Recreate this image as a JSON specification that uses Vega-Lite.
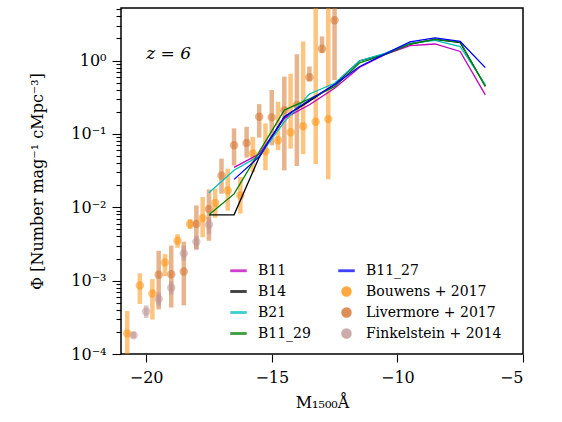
{
  "$schema": "https://vega.github.io/schema/vega-lite/v6.json",
  "width": 402,
  "height": 346,
  "autosize": {"type": "none"},
  "padding": {"left": 121, "top": 8, "right": 39, "bottom": 68},
  "config": {
    "view": {"stroke": "black", "strokeWidth": 1.5},
    "font": "DejaVu Serif",
    "axis": {"domain": false, "grid": false, "tickColor": "black", "tickWidth": 1.1, "labelColor": "black", "titleColor": "black", "labelFont": "DejaVu Serif", "titleFont": "DejaVu Serif", "labelFontSize": 16, "titleFontSize": 16, "titleFontWeight": "normal"}
  },
  "datasets": {
    "models": [
      {"series": "B11", "M": -16.5, "phi": 0.035}, {"series": "B11", "M": -15.5, "phi": 0.053}, {"series": "B11", "M": -14.5, "phi": 0.163}, {"series": "B11", "M": -13.5, "phi": 0.25}, {"series": "B11", "M": -12.5, "phi": 0.42}, {"series": "B11", "M": -11.5, "phi": 0.81}, {"series": "B11", "M": -10.5, "phi": 1.2}, {"series": "B11", "M": -9.5, "phi": 1.6}, {"series": "B11", "M": -8.5, "phi": 1.68}, {"series": "B11", "M": -7.5, "phi": 1.33}, {"series": "B11", "M": -6.5, "phi": 0.34},
      {"series": "B14", "M": -17.5, "phi": 0.0079}, {"series": "B14", "M": -16.5, "phi": 0.0079}, {"series": "B14", "M": -15.5, "phi": 0.048}, {"series": "B14", "M": -14.5, "phi": 0.17}, {"series": "B14", "M": -13.5, "phi": 0.28}, {"series": "B14", "M": -12.5, "phi": 0.47}, {"series": "B14", "M": -11.5, "phi": 0.99}, {"series": "B14", "M": -10.5, "phi": 1.22}, {"series": "B14", "M": -9.5, "phi": 1.68}, {"series": "B14", "M": -8.5, "phi": 1.94}, {"series": "B14", "M": -7.5, "phi": 1.75}, {"series": "B14", "M": -6.5, "phi": 0.45},
      {"series": "B21", "M": -17.5, "phi": 0.0158}, {"series": "B21", "M": -16.5, "phi": 0.032}, {"series": "B21", "M": -15.5, "phi": 0.05}, {"series": "B21", "M": -14.5, "phi": 0.146}, {"series": "B21", "M": -13.5, "phi": 0.35}, {"series": "B21", "M": -12.5, "phi": 0.49}, {"series": "B21", "M": -11.5, "phi": 0.99}, {"series": "B21", "M": -10.5, "phi": 1.25}, {"series": "B21", "M": -9.5, "phi": 1.71}, {"series": "B21", "M": -8.5, "phi": 1.88}, {"series": "B21", "M": -7.5, "phi": 1.55}, {"series": "B21", "M": -6.5, "phi": 0.47},
      {"series": "B11_29", "M": -17.5, "phi": 0.0079}, {"series": "B11_29", "M": -16.5, "phi": 0.0152}, {"series": "B11_29", "M": -15.5, "phi": 0.057}, {"series": "B11_29", "M": -14.5, "phi": 0.211}, {"series": "B11_29", "M": -13.5, "phi": 0.3}, {"series": "B11_29", "M": -12.5, "phi": 0.44}, {"series": "B11_29", "M": -11.5, "phi": 0.93}, {"series": "B11_29", "M": -10.5, "phi": 1.2}, {"series": "B11_29", "M": -9.5, "phi": 1.68}, {"series": "B11_29", "M": -8.5, "phi": 1.94}, {"series": "B11_29", "M": -7.5, "phi": 1.79}, {"series": "B11_29", "M": -6.5, "phi": 0.44},
      {"series": "B11_27", "M": -16.5, "phi": 0.024}, {"series": "B11_27", "M": -15.5, "phi": 0.049}, {"series": "B11_27", "M": -14.5, "phi": 0.171}, {"series": "B11_27", "M": -13.5, "phi": 0.29}, {"series": "B11_27", "M": -12.5, "phi": 0.47}, {"series": "B11_27", "M": -11.5, "phi": 0.83}, {"series": "B11_27", "M": -10.5, "phi": 1.22}, {"series": "B11_27", "M": -9.5, "phi": 1.79}, {"series": "B11_27", "M": -8.5, "phi": 2.03}, {"series": "B11_27", "M": -7.5, "phi": 1.82}, {"series": "B11_27", "M": -6.5, "phi": 0.8}
    ],
    "obs": [
      {"series": "Bouwens + 2017", "M": -20.75, "phi": 0.00019, "lo": 0.00001, "hi": 0.000385},
      {"series": "Bouwens + 2017", "M": -20.25, "phi": 0.00086, "lo": 0.00048, "hi": 0.00126},
      {"series": "Bouwens + 2017", "M": -19.75, "phi": 0.00067, "lo": 0.000295, "hi": 0.00105},
      {"series": "Bouwens + 2017", "M": -19.25, "phi": 0.00177, "lo": 0.00115, "hi": 0.0023},
      {"series": "Bouwens + 2017", "M": -18.75, "phi": 0.0035, "lo": 0.0028, "hi": 0.0043},
      {"series": "Bouwens + 2017", "M": -18.25, "phi": 0.0059, "lo": 0.00506, "hi": 0.0069},
      {"series": "Bouwens + 2017", "M": -17.75, "phi": 0.0071, "lo": 0.0039, "hi": 0.0138},
      {"series": "Bouwens + 2017", "M": -17.25, "phi": 0.0114, "lo": 0.0072, "hi": 0.018},
      {"series": "Bouwens + 2017", "M": -16.75, "phi": 0.0169, "lo": 0.009, "hi": 0.0336},
      {"series": "Bouwens + 2017", "M": -16.25, "phi": 0.0145, "lo": 0.0082, "hi": 0.0259},
      {"series": "Bouwens + 2017", "M": -15.75, "phi": 0.054, "lo": 0.03, "hi": 0.091},
      {"series": "Bouwens + 2017", "M": -15.25, "phi": 0.058, "lo": 0.032, "hi": 0.139},
      {"series": "Bouwens + 2017", "M": -14.75, "phi": 0.082, "lo": 0.06, "hi": 0.274},
      {"series": "Bouwens + 2017", "M": -14.25, "phi": 0.105, "lo": 0.063, "hi": 0.66},
      {"series": "Bouwens + 2017", "M": -13.75, "phi": 0.127, "lo": 0.053, "hi": 1.82},
      {"series": "Bouwens + 2017", "M": -13.25, "phi": 0.146, "lo": 0.039, "hi": 6},
      {"series": "Bouwens + 2017", "M": -12.75, "phi": 0.159, "lo": 0.024, "hi": 20},
      {"series": "Livermore + 2017", "M": -19.5, "phi": 0.0012, "lo": 0.000405, "hi": 0.00255},
      {"series": "Livermore + 2017", "M": -19.0, "phi": 0.00122, "lo": 0.00043, "hi": 0.003},
      {"series": "Livermore + 2017", "M": -18.5, "phi": 0.00133, "lo": 0.00046, "hi": 0.0034},
      {"series": "Livermore + 2017", "M": -18.0, "phi": 0.0059, "lo": 0.0027, "hi": 0.0106},
      {"series": "Livermore + 2017", "M": -17.5, "phi": 0.0095, "lo": 0.0035, "hi": 0.0175},
      {"series": "Livermore + 2017", "M": -17.0, "phi": 0.027, "lo": 0.0153, "hi": 0.046},
      {"series": "Livermore + 2017", "M": -16.5, "phi": 0.07, "lo": 0.037, "hi": 0.119},
      {"series": "Livermore + 2017", "M": -16.0, "phi": 0.075, "lo": 0.0476, "hi": 0.125},
      {"series": "Livermore + 2017", "M": -15.5, "phi": 0.171, "lo": 0.089, "hi": 0.255},
      {"series": "Livermore + 2017", "M": -15.0, "phi": 0.168, "lo": 0.07, "hi": 0.397},
      {"series": "Livermore + 2017", "M": -14.5, "phi": 0.21, "lo": 0.0318, "hi": 0.604},
      {"series": "Livermore + 2017", "M": -14.0, "phi": 0.247, "lo": 0.0365, "hi": 1.22},
      {"series": "Livermore + 2017", "M": -13.5, "phi": 0.593, "lo": 0.52, "hi": 0.83},
      {"series": "Livermore + 2017", "M": -13.0, "phi": 1.45, "lo": 1.26, "hi": 2.13},
      {"series": "Livermore + 2017", "M": -12.5, "phi": 3.53, "lo": 0.54, "hi": 8},
      {"series": "Finkelstein + 2014", "M": -20.5, "phi": 0.00018, "lo": 0.000165, "hi": 0.0002},
      {"series": "Finkelstein + 2014", "M": -20.0, "phi": 0.00038, "lo": 0.00031, "hi": 0.00046},
      {"series": "Finkelstein + 2014", "M": -19.5, "phi": 0.00056, "lo": 0.00045, "hi": 0.00069},
      {"series": "Finkelstein + 2014", "M": -19.0, "phi": 0.0008, "lo": 0.00065, "hi": 0.00098},
      {"series": "Finkelstein + 2014", "M": -18.5, "phi": 0.00235, "lo": 0.00187, "hi": 0.003},
      {"series": "Finkelstein + 2014", "M": -18.0, "phi": 0.0034, "lo": 0.0026, "hi": 0.0041},
      {"series": "Finkelstein + 2014", "M": -17.5, "phi": 0.0058, "lo": 0.0043, "hi": 0.0073}
    ]
  },
  "resolve": {"axis": {"y": "independent"}},
  "layer": [
    {
      "encoding": {
        "x": {"field": "M", "type": "quantitative",
          "scale": {"domain": [-21, -5], "nice": false, "zero": false},
          "axis": {"values": [-20, -15, -10, -5], "tickSize": 8, "labelPadding": 7, "title": "M₁₅₀₀Å", "titlePadding": 9}},
        "y": {"field": "phi", "type": "quantitative",
          "scale": {"type": "log", "domain": [0.0001, 5.2], "nice": false},
          "axis": {
            "values": [0.0001, 0.001, 0.01, 0.1, 1],
            "labelExpr": "datum.value >= 0.5 ? '10⁰' : datum.value >= 0.05 ? '10⁻¹' : datum.value >= 0.005 ? '10⁻²' : datum.value >= 0.0005 ? '10⁻³' : '10⁻⁴'",
            "tickSize": 9,
            "labelOverlap": false,
            "labelBound": false,
            "labelPadding": 6,
            "title": "Φ [Number mag⁻¹ cMpc⁻³]",
            "titlePadding": 25
          }},
        "color": {"field": "series", "type": "nominal",
          "scale": {
            "domain": ["B11", "B14", "B21", "B11_29", "B11_27", "Bouwens + 2017", "Livermore + 2017", "Finkelstein + 2014"],
            "range": ["#bf00bf", "#000000", "#00bfbf", "#008000", "#0000ff", "#ff8c00", "#d2691e", "#bc8f8f"]
          },
          "legend": {
            "orient": "none", "legendX": 109, "legendY": 254, "columns": 2, "title": null,
            "labelFont": "DejaVu Serif", "labelFontSize": 14, "labelColor": "black", "labelOffset": 11,
            "columnPadding": 25, "rowPadding": 5, "symbolSize": 225, "symbolOpacity": 0.75
          }}
      },
      "layer": [
        {
          "data": {"name": "obs"},
          "mark": {"type": "rule", "strokeWidth": 4.5, "opacity": 0.5, "clip": true},
          "encoding": {
            "y": {"field": "lo", "type": "quantitative"},
            "y2": {"field": "hi"}
          }
        },
        {
          "data": {"name": "obs"},
          "mark": {"type": "point", "filled": true, "size": 200, "opacity": 0.5, "clip": true},
          "encoding": {
            "shape": {"field": "series", "type": "nominal",
              "scale": {
                "domain": ["B11", "B14", "B21", "B11_29", "B11_27", "Bouwens + 2017", "Livermore + 2017", "Finkelstein + 2014"],
                "range": ["M-1,-0.09L1,-0.09L1,0.09L-1,0.09Z", "M-1,-0.09L1,-0.09L1,0.09L-1,0.09Z", "M-1,-0.09L1,-0.09L1,0.09L-1,0.09Z", "M-1,-0.09L1,-0.09L1,0.09L-1,0.09Z", "M-1,-0.09L1,-0.09L1,0.09L-1,0.09Z", "M-0.6,0A0.6,0.6 0 1,0 0.6,0A0.6,0.6 0 1,0 -0.6,0Z", "M-0.6,0A0.6,0.6 0 1,0 0.6,0A0.6,0.6 0 1,0 -0.6,0Z", "M-0.6,0A0.6,0.6 0 1,0 0.6,0A0.6,0.6 0 1,0 -0.6,0Z"]
              },
              "legend": {
                "orient": "none", "legendX": 109, "legendY": 254, "columns": 2, "title": null,
                "labelFont": "DejaVu Serif", "labelFontSize": 14, "labelColor": "black", "labelOffset": 11,
                "columnPadding": 25, "rowPadding": 5, "symbolSize": 225, "symbolOpacity": 0.75
              }}
          }
        },
        {
          "data": {"name": "models"},
          "mark": {"type": "line", "strokeWidth": 1.3, "clip": true}
        }
      ]
    },
    {
      "data": {"name": "models"},
      "mark": {"type": "point", "opacity": 0},
      "encoding": {
        "y": {"field": "phi", "type": "quantitative",
          "scale": {"type": "log", "domain": [0.0001, 5.2], "nice": false},
          "axis": {
            "orient": "left",
            "values": [0.0002, 0.0003, 0.0004, 0.0005, 0.0006, 0.0007, 0.0008, 0.0009, 0.002, 0.003, 0.004, 0.005, 0.006, 0.007, 0.008, 0.009, 0.02, 0.03, 0.04, 0.05, 0.06, 0.07, 0.08, 0.09, 0.2, 0.3, 0.4, 0.5, 0.6, 0.7, 0.8, 0.9, 2, 3, 4, 5],
            "labels": false,
            "tickSize": 5,
            "title": null
          }}
      }
    },
    {
      "data": {"values": [{"label": "z = 6"}]},
      "mark": {"type": "text", "align": "left", "baseline": "middle", "fontSize": 17, "fontStyle": "italic", "font": "DejaVu Serif", "fill": "black"},
      "encoding": {
        "x": {"datum": -20.0, "type": "quantitative"},
        "y": {"datum": 1.24, "type": "quantitative", "scale": {"type": "log", "domain": [0.0001, 5.2], "nice": false}, "axis": null},
        "text": {"field": "label", "type": "nominal"}
      }
    }
  ]
}
